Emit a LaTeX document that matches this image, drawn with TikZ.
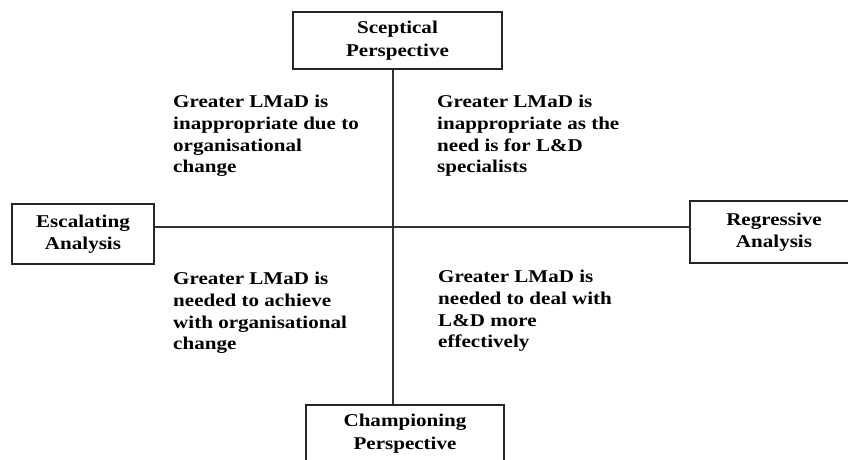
\documentclass[tikz,border=0pt]{standalone}
\usepackage{fontspec}
\setmainfont[FakeStretch=1.17]{Liberation Serif}
\begin{document}
\begin{tikzpicture}[x=1pt,y=-1pt,
  every node/.style={font=\bfseries\fontsize{18}{21.7}\selectfont},
  boxnode/.style={draw=black!85,line width=1.4pt,align=center,inner sep=0pt,
    font=\bfseries\fontsize{18}{22.5}\selectfont,
    execute at begin node={\rule{0pt}{20pt}}},
  quad/.style={anchor=north west,align=left,inner sep=0pt},
  axis/.style={draw=black!80,line width=1.3pt}]
\useasboundingbox (0,0) rectangle (848,460);
\clip (0,0) rectangle (848,460);
\fill[white] (0,0) rectangle (848,460);
\coordinate (c) at (393,227);
\node[boxnode,minimum width=209pt,minimum height=57pt] (top) at (397.5,40.5) {Sceptical\\Perspective};
\node[boxnode,minimum width=142pt,minimum height=60pt] (left) at (83,234) {Escalating\\Analysis};
\node[boxnode,minimum width=168pt,minimum height=62pt] (right) at (774,232) {Regressive\\Analysis};
\node[boxnode,minimum width=198pt,minimum height=57pt] (bottom) at (405,433.5) {Championing\\Perspective};
\draw[axis] (top.south -| c) -- (bottom.north -| c);
\draw[axis] (left.east |- c) -- (right.west |- c);
\node[quad] (tl) at (173,95) {Greater LMaD is\\inappropriate due to\\organisational\\change};
\node[quad] (tr) at (437,95) {Greater LMaD is\\inappropriate as the\\need is for L\&D\\specialists};
\node[quad] (bl) at (173,272) {Greater LMaD is\\needed to achieve\\with organisational\\change};
\node[quad] (br) at (438,270) {Greater LMaD is\\needed to deal with\\L\&D more\\effectively};
\end{tikzpicture}
\end{document}
